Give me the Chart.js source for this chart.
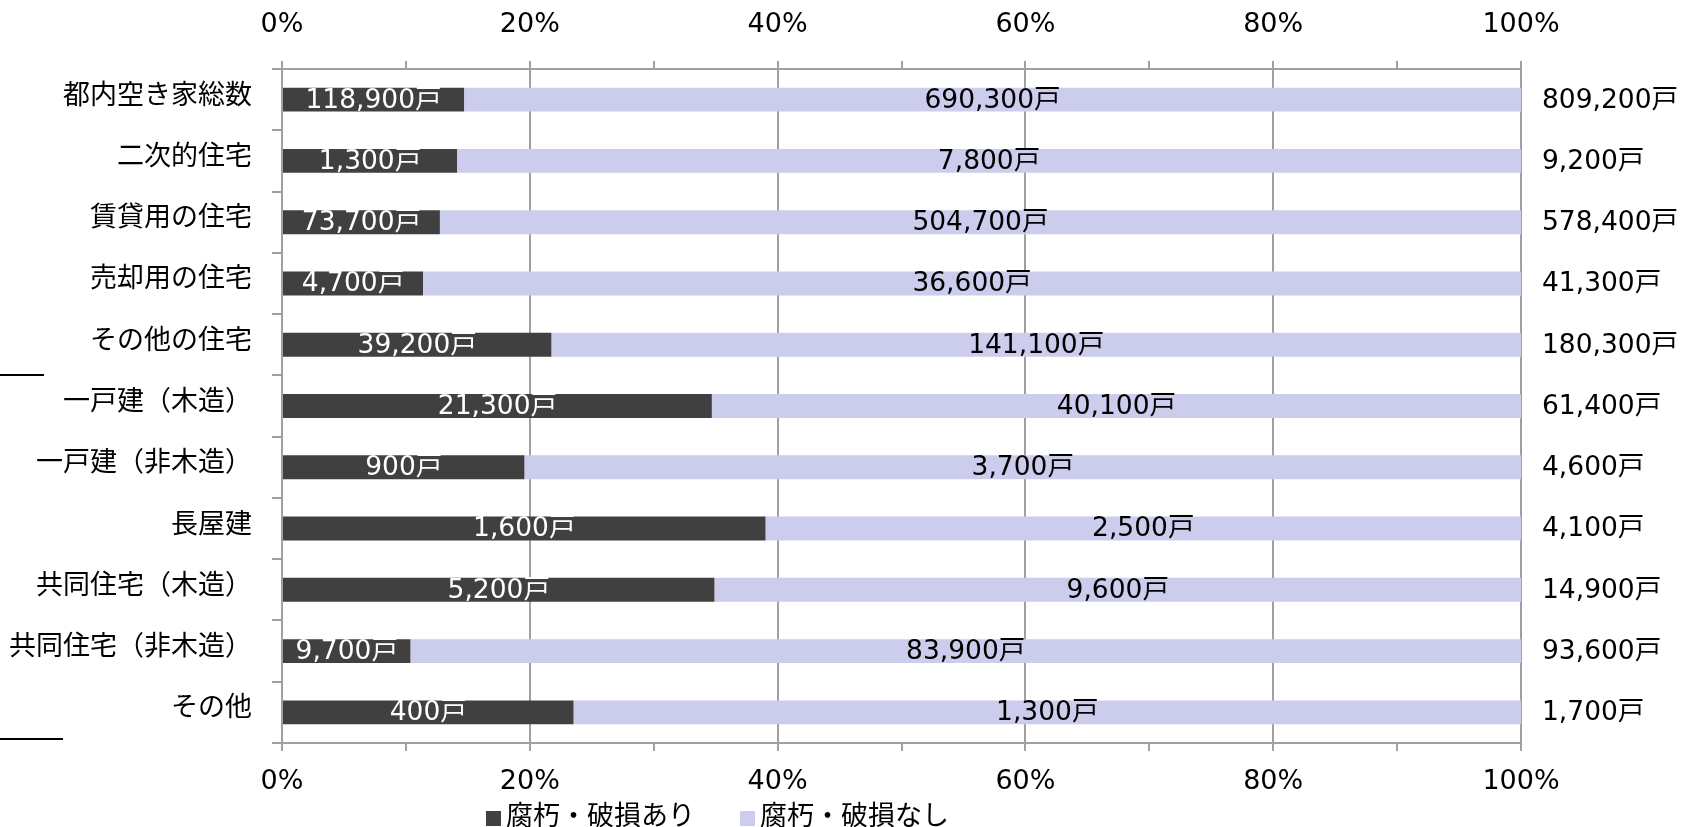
<!DOCTYPE html>
<html>
<head>
<meta charset="utf-8">
<script src="https://cdn.jsdelivr.net/npm/chart.js@4/dist/chart.umd.min.js"></script>
<style>
  html, body { margin: 0; padding: 0; background: #fff; }
  canvas { display: block; }
</style>
</head>
<body>
<canvas id="vacancyChart" width="1681" height="827"></canvas>
<script>
// categories (top to bottom)
const categories = [
    '都内空き家総数', '二次的住宅', '賃貸用の住宅', '売却用の住宅', 'その他の住宅',
    '一戸建（木造）', '一戸建（非木造）', '長屋建', '共同住宅（木造）', '共同住宅（非木造）', 'その他'
];
// 腐朽・破損あり
const damaged = [118900, 1300, 73700, 4700, 39200, 21300, 900, 1600, 5200, 9700, 400];
// 腐朽・破損なし
const undamaged = [690300, 7800, 504700, 36600, 141100, 40100, 3700, 2500, 9600, 83900, 1300];
// totals shown right of the bars
const totals = [809200, 9200, 578400, 41300, 180300, 61400, 4600, 4100, 14900, 93600, 1700];
const seriesNames = ['腐朽・破損あり', '腐朽・破損なし'];
const seriesColors = ['#404040', '#CCCCEC'];
const labelColors = ['#ffffff', '#000000'];

const FONT = '"DejaVu Sans", "Noto Sans CJK JP", sans-serif';
const AXIS_GREY = '#a0a0a0';

const damagedPct = damaged.map((v, i) => v / totals[i] * 100);
const undamagedPct = damagedPct.map(p => 100 - p);
const rawValues = [damaged, undamaged];

const fmt = v => v.toLocaleString('en-US') + '戸';

// value labels inside bars, totals on the right, legend and bracket lines
const annotatePlugin = {
    id: 'annotate',
    afterDatasetsDraw(chart) {
        const ctx = chart.ctx;
        ctx.save();
        ctx.font = '26.5px ' + FONT;
        ctx.textBaseline = 'middle';
        ctx.textAlign = 'center';
        chart.data.datasets.forEach((ds, di) => {
            const meta = chart.getDatasetMeta(di);
            meta.data.forEach((bar, i) => {
                const p = bar.getProps(['x', 'y', 'base'], true);
                ctx.fillStyle = labelColors[di];
                ctx.fillText(fmt(rawValues[di][i]), (p.x + p.base) / 2, p.y + 1);
            });
        });
        // totals
        ctx.font = '26.5px ' + FONT;
        ctx.textAlign = 'left';
        ctx.fillStyle = '#000';
        const meta0 = chart.getDatasetMeta(0);
        meta0.data.forEach((bar, i) => {
            ctx.fillText(fmt(totals[i]), chart.chartArea.right + 21, bar.y + 1);
        });
        ctx.restore();
    },
    afterDraw(chart) {
        const ctx = chart.ctx;
        const yScale = chart.scales.y;
        ctx.save();
        // bracket lines marking the breakdown of その他の住宅
        ctx.strokeStyle = '#000';
        ctx.lineWidth = 2;
        const y1 = Math.round(yScale.getPixelForValue(4.5));
        const y2 = Math.round(yScale.getPixelForValue(10.5)) - 4;
        ctx.beginPath();
        ctx.moveTo(0, y1); ctx.lineTo(44, y1);
        ctx.moveTo(0, y2); ctx.lineTo(63, y2);
        ctx.stroke();

        // legend
        ctx.font = '27px ' + FONT;
        ctx.textBaseline = 'middle';
        ctx.textAlign = 'left';
        let x = 486;
        const y = 818;
        chart.data.datasets.forEach(ds => {
            ctx.fillStyle = ds.backgroundColor;
            ctx.fillRect(x, y - 7, 15, 15);
            ctx.fillStyle = '#000';
            ctx.fillText(ds.label, x + 20, y);
            x += 254;
        });
        ctx.restore();
    }
};

const gridColor = c => (c.tick && c.tick.value % 20 === 0) ? AXIS_GREY : 'rgba(0,0,0,0)';
const pctLabel = v => (v % 20 === 0 ? v + '%' : '');

new Chart(document.getElementById('vacancyChart').getContext('2d'), {
    type: 'bar',
    data: {
        labels: categories,
        datasets: [
            {
                label: seriesNames[0],
                data: damagedPct,
                backgroundColor: seriesColors[0],
                barPercentage: 0.39,
                categoryPercentage: 1.0
            },
            {
                label: seriesNames[1],
                data: undamagedPct,
                backgroundColor: seriesColors[1],
                barPercentage: 0.39,
                categoryPercentage: 1.0
            }
        ]
    },
    options: {
        indexAxis: 'y',
        responsive: false,
        animation: false,
        layout: { padding: { left: 0, right: 160, top: 0, bottom: 0 } },
        plugins: {
            legend: { display: false },
            tooltip: { enabled: false }
        },
        scales: {
            x: {
                stacked: true,
                position: 'bottom',
                min: 0,
                max: 100,
                ticks: {
                    stepSize: 10,
                    autoSkip: false,
                    maxRotation: 0,
                    callback: pctLabel,
                    font: { family: FONT, size: 27 },
                    color: '#000',
                    padding: 15
                },
                grid: { color: gridColor, tickColor: AXIS_GREY, tickLength: 8, lineWidth: 2 },
                border: { color: AXIS_GREY, width: 2 },
                afterFit: s => { s.height = 84; }
            },
            x2: {
                position: 'top',
                min: 0,
                max: 100,
                ticks: {
                    stepSize: 10,
                    autoSkip: false,
                    maxRotation: 0,
                    callback: pctLabel,
                    font: { family: FONT, size: 27 },
                    color: '#000',
                    padding: 20
                },
                grid: { drawOnChartArea: false, color: AXIS_GREY, tickLength: 8, lineWidth: 2 },
                border: { color: AXIS_GREY, width: 2 },
                afterFit: s => { s.height = 69; }
            },
            y: {
                stacked: true,
                ticks: {
                    font: { family: FONT, size: 27 },
                    color: '#000',
                    padding: 20,
                    labelOffset: -3,
                    autoSkip: false
                },
                grid: { drawOnChartArea: false, offset: true, color: AXIS_GREY, tickLength: 10, lineWidth: 2 },
                border: { color: AXIS_GREY, width: 2 },
                afterFit: s => { s.width = 282; }
            }
        }
    },
    plugins: [annotatePlugin]
});
</script>
</body>
</html>
